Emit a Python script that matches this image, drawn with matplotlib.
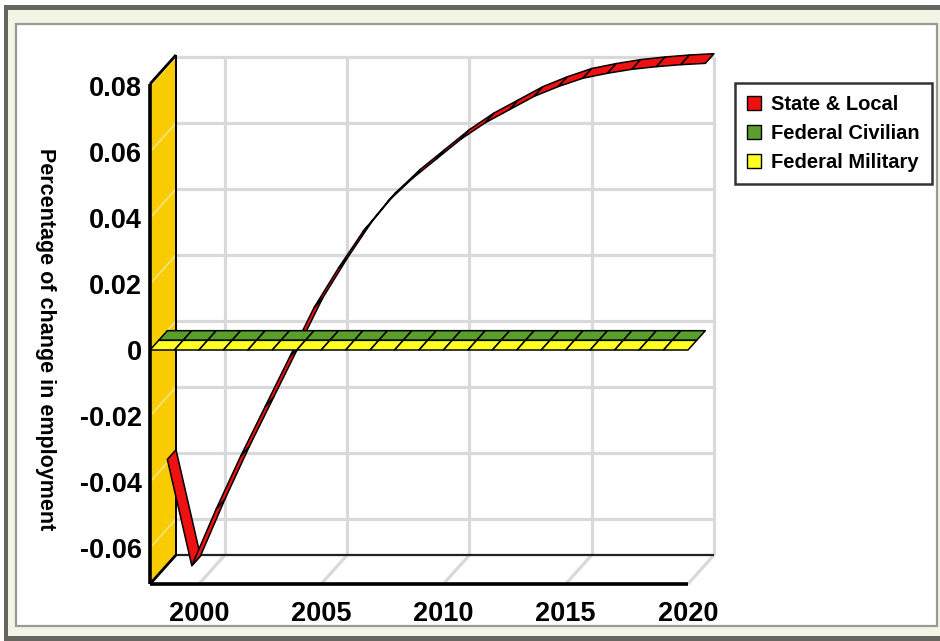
import numpy as np
import matplotlib
matplotlib.use("Agg")
import matplotlib.pyplot as plt
from matplotlib.patches import Rectangle, Polygon, Patch

plt.rcParams['font.family'] = ['Liberation Sans', 'DejaVu Sans']
plt.rcParams['font.weight'] = 'bold'

# ---- data -------------------------------------------------------------
years = np.arange(1998, 2021)
state_local = [-0.039, -0.0712, -0.054, -0.038, -0.023, -0.008, 0.007, 0.019,
               0.030, 0.039, 0.046, 0.052, 0.058, 0.063, 0.067, 0.071,
               0.074, 0.0765, 0.078, 0.0792, 0.0800, 0.0806, 0.0810]
federal_civilian = [0.0] * len(years)
federal_military = [0.0] * len(years)

series_names = ["State & Local", "Federal Civilian", "Federal Military"]
series_colors = ["#ee1111", "#5a9e2c", "#ffff22"]
series_slots = [2, 1, 0]          # depth slot: 0 = front row

x_ticks = [2000, 2005, 2010, 2015, 2020]
y_ticks = [-0.06, -0.04, -0.02, 0.0, 0.02, 0.04, 0.06, 0.08]
y_tick_labels = ["-0.06", "-0.04", "-0.02", "0", "0.02", "0.04", "0.06", "0.08"]
x_lim = (1998, 2020)
y_lim = (-0.0709, 0.0806)
y_title = "Percentage of change in employment"

# ---- figure and frame -------------------------------------------------
W, H = 940, 641
fig = plt.figure(figsize=(W / 100, H / 100), dpi=100)
fig.patch.set_facecolor("white")


def frect(x0, y0, x1, y1, **kw):
    fig.patches.append(Rectangle((x0 / W, 1 - y1 / H), (x1 - x0) / W, (y1 - y0) / H,
                                 transform=fig.transFigure, zorder=-10, **kw))


frect(4, 5, 940, 641, facecolor="#66665f", edgecolor="none")
frect(8, 10, 940, 636, facecolor="#f2f5e6", edgecolor="none")
frect(16, 24, 937, 626, facecolor="white", edgecolor="#9a9a94", linewidth=1.6)

# front plane of the 3-D box
left, right, top, bottom = 150, 688, 84, 584
ax = fig.add_axes([left / W, 1 - bottom / H, (right - left) / W, (bottom - top) / H])
ax.set_xlim(*x_lim)
ax.set_ylim(*y_lim)
ax.patch.set_visible(False)
for s in ax.spines.values():
    s.set_visible(False)

DEPTH = np.array([26.0, 29.0])    # full depth of the box in pixels


def shift(x, y, frac):
    pts = ax.transData.transform(np.column_stack([np.atleast_1d(x), np.atleast_1d(y)]))
    pts = pts + DEPTH * frac
    return ax.transData.inverted().transform(pts)


def seg(p, q, **kw):
    ax.plot([p[0], q[0]], [p[1], q[1]], clip_on=False, solid_capstyle="butt", **kw)


GRID = dict(color="#d9d9d9", lw=2.3, zorder=1)

# back wall grid
x0, x1 = x_lim
y0, y1 = y_lim
for yr in x_ticks:
    a, b = shift([yr, yr], [y0, 0.08], 1)
    seg(a, b, **GRID)
for v in y_ticks:
    a, b = shift([x0, x1], [v, v], 1)
    seg(a, b, **GRID)

# floor
for yr in x_ticks:
    a = shift(yr, y0, 0)[0]
    b = shift(yr, y0, 1)[0]
    seg(a, b, **GRID)
fa, fb = shift([x0, x1], [y0, y0], 0)
ba, bb = shift([x0, x1], [y0, y0], 1)
seg(ba, bb, color="#222222", lw=1.6, zorder=2)
seg(fa, fb, color="black", lw=2.6, zorder=6)

# left wall
wf = shift([x0, x0], [y0, y1], 0)
wb = shift([x0, x0], [y0, y1], 1)
ax.add_patch(Polygon([wf[0], wf[1], wb[1], wb[0]], closed=True, facecolor="#f8cc00",
                     edgecolor="none", zorder=3, clip_on=False))
for v in y_ticks:
    a = shift(x0, v, 0)[0]
    b = shift(x0, v, 1)[0]
    seg(a, b, color="#f6e27a", lw=1.3, zorder=3.5)
seg(wb[0], wb[1], color="black", lw=1.4, zorder=4)
seg(wf[1], wb[1], color="black", lw=2.0, zorder=4)
seg(wf[0], wb[0], color="black", lw=2.0, zorder=4)
seg(wf[0], wf[1], color="black", lw=2.6, zorder=6)

# series ribbons, drawn back to front
n_slots = 3
data = [state_local, federal_civilian, federal_military]
order = np.argsort(series_slots)[::-1]
z = 10
for i in order:
    vals = np.asarray(data[i], dtype=float)
    s = series_slots[i]
    front = shift(years, vals, s / n_slots)
    back = shift(years, vals, (s + 1) / n_slots)
    for k in range(len(years) - 1):
        quad = [front[k], front[k + 1], back[k + 1], back[k]]
        ax.add_patch(Polygon(quad, closed=True, facecolor=series_colors[i],
                             edgecolor="black", linewidth=1.1, joinstyle="round",
                             zorder=z, clip_on=False))
    z += 1

# ticks and labels
ax.set_xticks(x_ticks)
ax.set_xticklabels([str(t) for t in x_ticks])
ax.set_yticks(y_ticks)
ax.set_yticklabels(y_tick_labels)
ax.tick_params(axis="both", length=0, labelsize=19.5)
ax.tick_params(axis="x", pad=12)
ax.tick_params(axis="y", pad=6)
for lab in ax.get_xticklabels() + ax.get_yticklabels():
    lab.set_fontweight("bold")

fig.text(45 / W, 1 - 339 / H, y_title, rotation=270, ha="center", va="center",
         fontsize=15.5, fontweight="bold")

handles = [Patch(facecolor=c, edgecolor="black", linewidth=1.0) for c in series_colors]
leg = fig.legend(handles, series_names, loc="upper left",
                 bbox_to_anchor=(735 / W, 1 - 83 / H), frameon=True, fancybox=False,
                 prop=dict(weight="bold", size=14.5), handlelength=0.7, handleheight=0.7,
                 handletextpad=0.5, labelspacing=0.5, borderpad=0.6, borderaxespad=0.0)
leg.get_frame().set_edgecolor("black")
leg.get_frame().set_linewidth(1.8)

fig.savefig("out.png", dpi=100)
